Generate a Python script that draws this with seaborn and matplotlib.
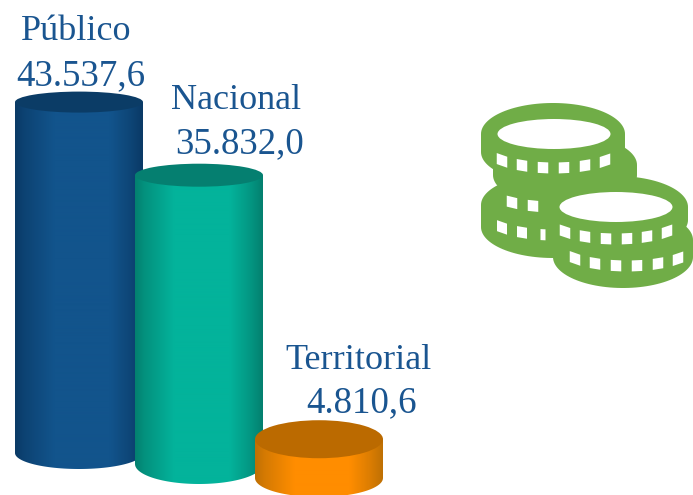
# Imports
import numpy as np
import matplotlib
matplotlib.use('Agg')
import matplotlib.pyplot as plt
import seaborn as sns
from matplotlib.colors import LinearSegmentedColormap
from matplotlib.patches import Ellipse, Polygon
from matplotlib.path import Path

# Dados
categorias = ['Público', 'Nacional', 'Territorial']
valores = [43537.6, 35832.0, 4810.6]
rotulos_valor = ['43.537,6', '35.832,0', '4.810,6']

# Cores: borda, centro, tampa
cores_borda = ['#0a3a66', '#04806f', '#bf7004']
cores_centro = ['#12548c', '#03b39b', '#ff8d00']
cores_tampa = ['#0b3c66', '#057f70', '#bb6a00']
cor_texto = '#1a5590'
cor_moedas = '#70ad47'

# Layout em pixels da imagem
L, H = 693, 495
ESCALA = 0.00806  # pixels por unidade
base_px = [453, 464, 478]
ry_topo = [10.5, 11.5, 19]
ry_base = [16, 20, 19]
nome_xy = [(76, 40), (236, 109), (359, 369)]
valor_xy = [(81, 85), (240, 153), (362, 412)]

sns.set_theme(style='white')
plt.rcParams['font.family'] = ['Liberation Serif', 'DejaVu Serif']

fig = plt.figure(figsize=(L / 100, H / 100), dpi=100)
ax = fig.add_axes([0, 0, 1, 1])

sns.barplot(x=categorias, y=valores, hue=categorias, palette=cores_borda,
            width=128 / 120, legend=False, saturation=1, ax=ax)

# eixo x: centros das barras a 79 px com passo de 120 px
xlim = (-79 / 120, (L - 79) / 120)
ylim = (0, H / ESCALA)
ax.axis('off')


def py(px):
    return (H - px) / ESCALA


# Cilindros
for i, barra in enumerate(ax.patches):
    x0, w = barra.get_x(), barra.get_width()
    base = py(base_px[i])
    topo = base + valores[i]
    barra.set_y(base)
    barra.set_zorder(3 * i + 1)
    barra.set_linewidth(0)

    # corpo: retangulo + meia elipse de baixo
    t = np.linspace(np.pi, 0, 60)
    xs = x0 + w / 2 + np.cos(t) * w / 2
    ys = base - np.sin(t) * ry_base[i] / ESCALA
    contorno = np.column_stack([np.r_[x0, xs, x0 + w], np.r_[topo, ys, topo]])
    caminho = Path(np.vstack([contorno, contorno[0]]), closed=True)

    cmap = LinearSegmentedColormap.from_list(
        'c', [cores_borda[i], cores_centro[i], cores_centro[i], cores_borda[i]])
    pos = np.linspace(0, 1, 256)
    grad = np.interp(pos, [0, 0.07, 0.35, 0.6, 0.9, 1], [0, 0.22, 0.75, 1, 0.3, 0])
    im = ax.imshow(grad[np.newaxis, :] / 2, cmap=cmap, vmin=0, vmax=1, aspect='auto',
                   extent=(x0, x0 + w, base - ry_base[i] / ESCALA, topo),
                   zorder=3 * i + 2, interpolation='bilinear')
    im.set_clip_path(caminho, transform=ax.transData)

    ax.add_patch(Ellipse((x0 + w / 2, topo), w, 2 * ry_topo[i] / ESCALA,
                         facecolor=cores_tampa[i], edgecolor='none', zorder=3 * i + 3))

ax.set_xlim(xlim)
ax.set_ylim(ylim)

# Textos
for i in range(len(categorias)):
    fig.text(nome_xy[i][0] / L, 1 - nome_xy[i][1] / H, categorias[i], color=cor_texto,
             fontsize=26, ha='center', va='baseline')
    fig.text(valor_xy[i][0] / L, 1 - valor_xy[i][1] / H, rotulos_valor[i], color=cor_texto,
             fontsize=26.6, ha='center', va='baseline')

# Icone de moedas, em pixels
ic = fig.add_axes([0, 0, 1, 1], facecolor='none')
ic.set_xlim(0, L)
ic.set_ylim(H, 0)
ic.axis('off')


def moeda(xc, y1, y2, rx=72, ry=31):
    t = np.linspace(0, np.pi, 60)
    cima = np.column_stack([xc - rx * np.cos(t), y1 - ry * np.sin(t)])
    baixo = np.column_stack([xc + rx * np.cos(t), y2 + ry * np.sin(t)])
    ic.add_patch(Polygon(np.vstack([cima, baixo]), closed=True, facecolor=cor_moedas,
                         edgecolor='none'))


def furo(xc, yc):
    ic.add_patch(Ellipse((xc, yc), 113, 30, facecolor='white', edgecolor='none'))


def fendas(xc, y0, centros, larguras=None):
    for k, c in enumerate(centros):
        lg = 10.5 if larguras is None else larguras[k]
        xa, xb = c - lg / 2, c + lg / 2
        curva = lambda x: -24 * (1 - np.sqrt(max(0, 1 - ((x - xc) / 72) ** 2)))
        ic.add_patch(Polygon([(xa, y0 - 5.5 + curva(xa)), (xb, y0 - 5.5 + curva(xb)),
                              (xb, y0 + 5.5 + curva(xb)), (xa, y0 + 5.5 + curva(xa))],
                             closed=True, facecolor='white', edgecolor='none'))


moeda(565, 165, 175)
moeda(553, 205, 227)
fendas(554, 207, [512, 533])
fendas(554, 235, [502, 522, 543], [10, 10, 5])
moeda(553, 134, 152)
furo(554, 134)
fendas(554, 168, [502, 522, 543, 564, 585, 605])
moeda(623, 240, 257, rx=70)
fendas(627, 266, [575, 595, 616, 637, 658, 678])
moeda(616, 207, 220)
furo(616, 207)
fendas(616, 239, [565, 585, 606, 627, 647, 667])

fig.savefig('out.png', dpi=100)
